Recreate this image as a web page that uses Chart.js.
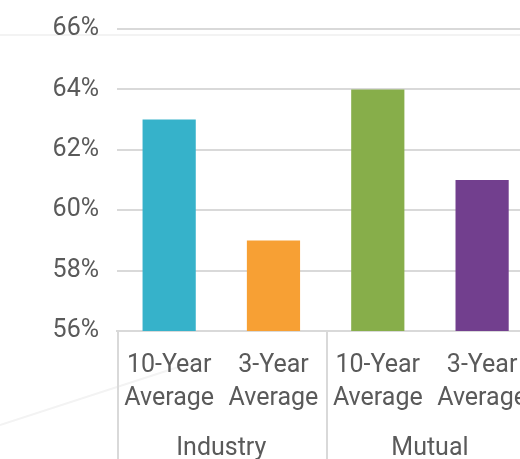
<!DOCTYPE html>
<html>
<head>
<meta charset="utf-8">
<script src="https://cdn.jsdelivr.net/npm/chart.js@4/dist/chart.umd.min.js"></script>
<style>
  html, body { margin: 0; padding: 0; background: #fff; overflow: hidden; }
  #wrap { position: relative; width: 545px; height: 472px; }
</style>
</head>
<body>
<div id="wrap"><canvas id="myChart"></canvas></div>
<script>
'use strict';

const catLabels = [['10-Year', 'Average'], ['3-Year', 'Average'], ['10-Year', 'Average'], ['3-Year', 'Average']];
const groupLabels = ['Industry', 'Mutual'];
const groupSize = 2;
const values = [63, 59, 64, 61];
const barColors = ['#36b2ca', '#f7a034', '#87ae4a', '#723f8e'];
const yMin = 56;
const yMax = 66;
const yStep = 2;

const textColor = '#5a5a5a';
const lineColor = '#d9d9d9';
const fontFamily = 'Roboto, "Liberation Sans", sans-serif';

// faint background strokes + group labels and separators under the x axis
const groupAxis = {
  id: 'groupAxis',
  beforeDraw(chart) {
    const ctx = chart.ctx;
    ctx.save();
    ctx.strokeStyle = '#f3f3f3';
    ctx.lineWidth = 2;
    ctx.beginPath();
    ctx.moveTo(0, 35);
    ctx.lineTo(chart.width, 35);
    ctx.moveTo(0, 425);
    ctx.lineTo(200, 360);
    ctx.stroke();
    ctx.restore();
  },
  afterDraw(chart) {
    const ctx = chart.ctx;
    const x = chart.scales.x;
    const area = chart.chartArea;
    const step = (area.right - area.left) / catLabels.length;
    ctx.save();
    ctx.strokeStyle = lineColor;
    ctx.lineWidth = 2;
    ctx.beginPath();
    for (let g = 0; g <= groupLabels.length; g++) {
      const px = Math.round(x.getPixelForValue(g * groupSize) - step / 2) + 1;
      ctx.moveTo(px, area.bottom);
      ctx.lineTo(px, chart.height);
    }
    ctx.stroke();
    ctx.fillStyle = textColor;
    ctx.font = '25px ' + fontFamily;
    ctx.textAlign = 'center';
    ctx.textBaseline = 'middle';
    for (let g = 0; g < groupLabels.length; g++) {
      const a = x.getPixelForValue(g * groupSize);
      const b = x.getPixelForValue(g * groupSize + groupSize - 1);
      ctx.fillText(groupLabels[g], (a + b) / 2, 449);
    }
    ctx.restore();
  }
};

const ctx = document.getElementById('myChart').getContext('2d');
const myChart = new Chart(ctx, {
  type: 'bar',
  data: {
    labels: catLabels,
    datasets: [{
      data: values,
      backgroundColor: barColors,
      borderWidth: 0,
      barPercentage: 0.51,
      categoryPercentage: 1
    }]
  },
  options: {
    responsive: true,
    maintainAspectRatio: false,
    animation: false,
    layout: { padding: 0 },
    plugins: { legend: { display: false }, tooltip: { enabled: false } },
    scales: {
      x: {
        afterFit(scale) { scale.height = 141; },
        grid: { display: false, drawTicks: false },
        border: { display: true, color: lineColor, width: 2 },
        ticks: {
          color: textColor,
          padding: 18,
          maxRotation: 0,
          autoSkip: false,
          font: { family: fontFamily, size: 25, lineHeight: 1.32 }
        }
      },
      y: {
        min: yMin,
        max: yMax,
        afterFit(scale) { scale.width = 117; },
        grid: { color: lineColor, lineWidth: 2, drawTicks: false },
        border: { display: false },
        ticks: {
          stepSize: yStep,
          color: textColor,
          padding: 18,
          font: { family: fontFamily, size: 25, lineHeight: 0.88 },
          callback: (v) => v + '%'
        }
      }
    }
  },
  plugins: [groupAxis]
});
</script>
</body>
</html>
